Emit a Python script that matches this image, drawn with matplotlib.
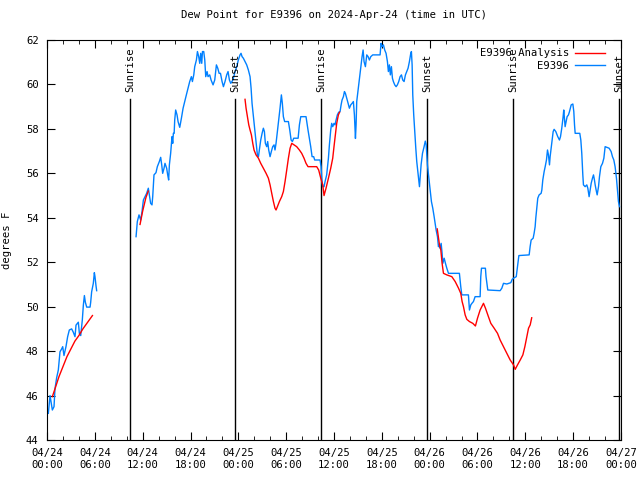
import matplotlib
matplotlib.use("Agg")
import matplotlib.pyplot as plt
import numpy as np

# hours since 2024-04-24 00:00 UTC
obs_hours_a = [0.17, 0.38, 0.67, 0.88, 1.0, 1.21, 1.42, 1.63, 1.84, 1.97, 2.13, 2.38, 2.59, 2.8,
               3.09, 3.3, 3.51, 3.64, 3.93, 4.06, 4.23, 4.43, 4.56, 4.69, 4.81, 4.98, 5.4, 5.48,
               5.6, 5.81, 5.94, 6.02, 6.15, 6.23]
obs_vals_a = [45.2, 46.0, 45.35, 45.5, 46.3, 46.8, 47.15, 47.97, 48.1, 48.2, 47.8, 48.2, 48.65, 48.95,
              49.0, 48.85, 48.65, 49.17, 49.3, 48.8, 48.7, 49.4, 50.07, 50.5, 50.2, 49.98, 49.98, 50.2,
              50.67, 51.05, 51.53, 51.35, 50.93, 50.72]

obs_b = [
    (11.17, 53.15), (11.33, 53.83), (11.54, 54.13), (11.75, 53.9), (11.92, 54.28), (12.09, 54.8),
    (12.3, 54.95), (12.5, 55.1), (12.71, 55.33), (12.84, 55.03), (13.0, 54.65), (13.17, 54.58),
    (13.26, 54.95), (13.42, 55.93), (13.67, 56.03), (13.84, 56.3), (14.09, 56.53), (14.26, 56.72),
    (14.39, 56.38), (14.51, 56.0), (14.68, 56.23), (14.8, 56.45), (15.01, 56.23), (15.14, 55.93),
    (15.26, 55.7), (15.35, 56.38), (15.51, 56.9), (15.68, 57.65), (15.77, 57.35), (15.85, 57.8),
    (15.95, 57.8), (16.02, 58.4), (16.14, 58.85), (16.31, 58.63), (16.44, 58.33), (16.65, 58.07),
    (16.86, 58.48), (17.07, 58.93), (17.27, 59.23), (17.48, 59.53), (17.69, 59.83), (17.9, 60.13),
    (18.11, 60.35), (18.24, 60.13), (18.41, 60.43), (18.53, 60.8), (18.74, 61.1), (18.87, 61.48),
    (19.03, 61.25), (19.16, 60.95), (19.28, 61.4), (19.41, 60.95), (19.5, 61.48), (19.66, 61.48),
    (19.79, 61.1), (19.91, 60.35), (20.08, 60.58), (20.2, 60.35), (20.41, 60.43), (20.58, 60.2),
    (20.83, 59.98), (21.04, 60.2), (21.25, 60.88), (21.42, 60.73), (21.59, 60.5), (21.76, 60.5),
    (21.96, 60.13), (22.13, 59.9), (22.33, 60.13), (22.54, 60.43), (22.71, 60.58), (22.88, 60.2),
    (23.05, 60.05), (23.21, 60.13), (23.38, 60.28), (23.59, 60.58), (23.8, 60.8), (24.0, 61.1),
    (24.21, 61.33), (24.34, 61.4), (24.47, 61.25), (24.63, 61.18), (24.84, 61.03), (25.05, 60.88),
    (25.26, 60.65), (25.47, 60.35), (25.6, 59.83), (25.72, 59.15), (25.89, 58.55), (26.06, 57.95),
    (26.22, 57.35), (26.39, 56.83), (26.52, 56.75), (26.64, 57.05), (26.81, 57.5), (26.98, 57.8),
    (27.14, 58.03), (27.27, 57.88), (27.39, 57.35), (27.56, 57.2), (27.68, 57.43), (27.81, 57.05),
    (27.98, 56.75), (28.14, 56.98), (28.31, 57.2), (28.48, 57.28), (28.6, 57.05), (28.73, 57.35),
    (28.9, 57.88), (29.06, 58.4), (29.23, 58.93), (29.4, 59.53), (29.52, 59.15), (29.65, 58.55),
    (29.81, 58.33), (30.28, 58.33), (30.45, 57.95), (30.62, 57.5), (30.78, 57.43), (30.95, 57.58),
    (31.5, 57.58), (31.66, 58.18), (31.83, 58.55), (32.49, 58.55), (32.58, 58.33), (32.74, 57.95),
    (32.91, 57.58), (33.08, 57.2), (33.25, 56.75), (33.45, 56.75), (33.58, 56.6), (34.25, 56.6),
    (34.38, 56.3), (34.46, 55.78), (34.58, 55.4), (34.75, 55.4), (34.88, 55.63), (35.08, 55.93),
    (35.3, 56.68), (35.42, 57.27), (35.59, 57.95), (35.71, 58.25), (35.84, 58.1), (36.0, 58.25),
    (36.13, 58.18), (36.26, 58.4), (36.42, 58.63), (36.59, 58.75), (36.76, 58.78), (36.89, 59.08),
    (37.01, 59.3), (37.18, 59.45), (37.31, 59.68), (37.43, 59.6), (37.6, 59.38), (37.77, 59.15),
    (37.93, 58.93), (38.1, 59.08), (38.27, 59.15), (38.43, 59.23), (38.56, 58.63), (38.69, 57.57),
    (38.77, 58.18), (38.85, 59.23), (39.02, 59.75), (39.19, 60.28), (39.35, 60.73), (39.52, 61.25),
    (39.65, 61.55), (39.77, 61.03), (39.94, 60.8), (40.11, 61.33), (40.28, 61.25), (40.44, 61.1),
    (40.61, 61.25), (40.86, 61.33), (41.78, 61.33), (41.9, 61.85), (42.03, 61.7), (42.2, 61.78),
    (42.36, 61.55), (42.53, 61.4), (42.7, 61.03), (42.82, 60.58), (42.95, 60.88), (43.07, 60.43),
    (43.2, 60.8), (43.33, 60.28), (43.45, 60.13), (43.62, 59.98), (43.79, 59.9), (43.95, 59.98),
    (44.12, 60.13), (44.29, 60.35), (44.46, 60.43), (44.62, 60.2), (44.79, 60.13), (44.96, 60.43),
    (45.13, 60.58), (45.29, 60.73), (45.46, 61.03), (45.63, 61.4), (45.71, 61.48), (45.8, 60.88),
    (45.88, 59.53), (46.0, 58.63), (46.13, 57.88), (46.26, 57.13), (46.38, 56.53), (46.51, 56.08),
    (46.63, 55.63), (46.72, 55.4), (46.8, 55.78), (46.93, 56.4), (47.1, 56.9), (47.3, 57.2),
    (47.45, 57.45), (47.56, 57.3), (47.72, 56.38), (47.84, 56.0), (47.97, 55.55), (48.1, 55.1),
    (48.22, 54.73), (48.39, 54.43), (48.56, 54.05), (48.68, 53.75), (48.81, 53.45), (48.98, 53.15),
    (49.1, 52.7), (49.23, 52.78), (49.31, 52.63), (49.44, 52.85), (49.56, 52.4), (49.65, 51.95),
    (49.82, 52.18), (49.98, 51.95), (50.15, 51.73), (50.36, 51.5), (51.73, 51.5), (51.9, 50.9),
    (52.03, 50.53), (52.86, 50.53), (52.99, 49.85), (53.16, 50.08), (53.3, 50.15), (53.49, 50.23),
    (53.7, 50.45), (54.33, 50.45), (54.41, 51.35), (54.5, 51.73), (54.99, 51.73), (55.07, 51.35),
    (55.2, 50.98), (55.29, 50.75), (56.84, 50.72), (57.05, 50.83), (57.26, 51.05), (57.68, 51.02),
    (58.18, 51.08), (58.35, 51.23), (58.52, 51.28), (58.86, 51.35), (59.02, 51.8), (59.19, 52.3),
    (60.48, 52.33), (60.6, 52.7), (60.73, 53.0), (60.98, 53.08), (61.1, 53.3), (61.23, 53.6),
    (61.31, 53.98), (61.44, 54.43), (61.56, 54.88), (61.73, 55.03), (61.98, 55.1), (62.07, 55.25),
    (62.19, 55.7), (62.36, 56.08), (62.49, 56.3), (62.65, 56.6), (62.78, 57.05), (62.9, 56.83),
    (63.03, 56.38), (63.11, 56.75), (63.24, 57.13), (63.36, 57.5), (63.49, 57.88), (63.61, 57.98),
    (63.82, 57.88), (64.07, 57.65), (64.28, 57.5), (64.41, 57.65), (64.57, 58.03), (64.74, 58.55),
    (64.82, 58.85), (64.91, 58.48), (64.99, 58.1), (65.12, 58.33), (65.24, 58.55), (65.41, 58.63),
    (65.54, 58.78), (65.75, 59.08), (65.96, 59.12), (66.08, 58.78), (66.17, 58.18), (66.25, 57.8),
    (66.83, 57.8), (66.96, 57.5), (67.08, 56.9), (67.21, 55.93), (67.29, 55.48), (67.5, 55.4),
    (67.71, 55.48), (67.84, 55.33), (68.0, 54.95), (68.13, 55.25), (68.26, 55.55), (68.42, 55.78),
    (68.55, 55.93), (68.67, 55.7), (68.76, 55.48), (68.88, 55.25), (69.01, 55.03), (69.18, 55.4),
    (69.3, 55.85), (69.47, 56.3), (69.68, 56.45), (69.85, 56.68), (70.01, 57.2), (70.22, 57.17),
    (70.51, 57.13), (70.76, 56.98), (70.93, 56.75), (71.1, 56.6), (71.26, 56.3), (71.43, 55.78),
    (71.56, 55.25), (71.68, 54.73), (71.81, 54.5),
]
obs_hours_b = [p[0] for p in obs_b]
obs_vals_b = [p[1] for p in obs_b]

# analysis series (four separate pieces)
ana_hours_1 = [0.67, 1.0, 1.5, 2.0, 2.5, 3.0, 3.5, 4.0, 4.5, 5.0, 5.7]
ana_vals_1 = [45.95, 46.3, 46.85, 47.3, 47.75, 48.1, 48.45, 48.7, 49.0, 49.25, 49.6]
ana_hours_2 = [11.67, 12.0, 12.4, 12.7]
ana_vals_2 = [53.7, 54.3, 54.9, 55.2]
ana_hours_3 = [24.84, 24.97, 25.14, 25.31, 25.47, 25.64, 25.81, 25.97, 26.22, 26.52, 26.81, 27.14,
               27.48, 27.77, 27.98, 28.19, 28.4, 28.6, 28.73, 28.9, 29.15, 29.44, 29.65, 29.86,
               30.07, 30.28, 30.49, 30.7, 30.99, 31.32, 31.66, 31.95, 32.24, 32.49, 32.74, 33.2,
               33.83, 34.08, 34.34, 34.59, 34.75, 35.0, 35.3, 35.59, 35.84, 36.0, 36.17, 36.34,
               36.55, 36.7]
ana_vals_3 = [59.33, 58.93, 58.55, 58.18, 57.95, 57.73, 57.35, 57.05, 56.83, 56.68, 56.45, 56.23,
              56.0, 55.78, 55.48, 55.1, 54.73, 54.43, 54.35, 54.5, 54.73, 54.95, 55.18, 55.63,
              56.15, 56.68, 57.13, 57.35, 57.28, 57.2, 57.05, 56.9, 56.68, 56.45, 56.3, 56.3,
              56.3, 56.15, 55.78, 55.48, 55.0, 55.33, 55.78, 56.23, 56.68, 57.2, 57.73, 58.25,
              58.63, 58.75]
ana_hours_4 = [48.95, 49.23, 49.4, 49.56, 49.73, 50.15, 50.78, 51.2, 51.62, 51.9, 52.07, 52.24,
               52.45, 52.66, 52.99, 53.41, 53.74, 54.0, 54.33, 54.75, 55.0, 55.37, 55.67, 56.09,
               56.51, 56.84, 57.26, 57.68, 58.1, 58.52, 58.73, 59.02, 59.36, 59.69, 59.94, 60.19,
               60.4, 60.61, 60.8]
ana_vals_4 = [53.5, 52.78, 52.55, 51.95, 51.5, 51.43, 51.35, 51.13, 50.83, 50.6, 50.23, 50.0,
              49.63, 49.43, 49.33, 49.25, 49.13, 49.48, 49.85, 50.15, 49.93, 49.55, 49.25, 49.03,
              48.8, 48.5, 48.2, 47.9, 47.6, 47.38, 47.18, 47.38, 47.6, 47.83, 48.2, 48.65,
              49.03, 49.18, 49.5]

sun_hours = [10.4, 23.6, 34.4, 47.7, 58.5, 71.8]
sun_labels = ["Sunrise", "Sunset", "Sunrise", "Sunset", "Sunrise", "Sunset"]

tick_hours = list(range(0, 73, 6))
tick_labels = ["04/24\n00:00", "04/24\n06:00", "04/24\n12:00", "04/24\n18:00",
               "04/25\n00:00", "04/25\n06:00", "04/25\n12:00", "04/25\n18:00",
               "04/26\n00:00", "04/26\n06:00", "04/26\n12:00", "04/26\n18:00",
               "04/27\n00:00"]

plt.rcParams["font.family"] = "DejaVu Sans Mono"
fs = 7.6

fig = plt.figure(figsize=(6.4, 4.8), dpi=100)
ax = fig.add_axes([47 / 640, 40 / 480, 574 / 640, 400 / 480])

red = "#ff0000"
blue = "#0080ff"

for h, lab in zip(sun_hours, sun_labels):
    ax.plot([h, h], [44, 59.35], color="black", lw=1.0, zorder=1)
    ax.text(h, 59.65, lab, rotation=90, ha="center", va="bottom", fontsize=fs)

ax.plot(ana_hours_1, ana_vals_1, color=red, lw=1.0, label="E9396 Analysis", zorder=3)
ax.plot(ana_hours_2, ana_vals_2, color=red, lw=1.0, zorder=3)
ax.plot(ana_hours_3, ana_vals_3, color=red, lw=1.0, zorder=3)
ax.plot(ana_hours_4, ana_vals_4, color=red, lw=1.0, zorder=3)
ax.plot(obs_hours_a, obs_vals_a, color=blue, lw=1.0, label="E9396", zorder=2)
ax.plot(obs_hours_b, obs_vals_b, color=blue, lw=1.0, zorder=2)

ax.set_xlim(0, 72)
ax.set_ylim(44, 62)
ax.set_xticks(tick_hours)
ax.set_xticklabels(tick_labels, fontsize=fs)
ax.set_xticks(np.arange(0, 73, 2), minor=True)
ax.set_yticks(np.arange(44, 63, 2))
ax.tick_params(axis="both", which="both", direction="in", top=True, right=True)
ax.tick_params(axis="both", which="major", length=6, labelsize=fs)
ax.tick_params(axis="x", which="minor", length=3)
ax.tick_params(axis="x", which="major", pad=6)
ax.tick_params(axis="y", which="major", pad=6)

ax.set_ylabel("degrees F", fontsize=fs, labelpad=10)
ax.set_title("Dew Point for E9396 on 2024-Apr-24 (time in UTC)", fontsize=fs, pad=16)

ax.legend(loc="upper right", bbox_to_anchor=(610 / 640, 1 - 43 / 480),
          bbox_transform=fig.transFigure, markerfirst=False, frameon=False,
          handlelength=2.8, handletextpad=0.6, borderpad=0, labelspacing=0.25, fontsize=fs)

fig.savefig("out.png", dpi=100)
